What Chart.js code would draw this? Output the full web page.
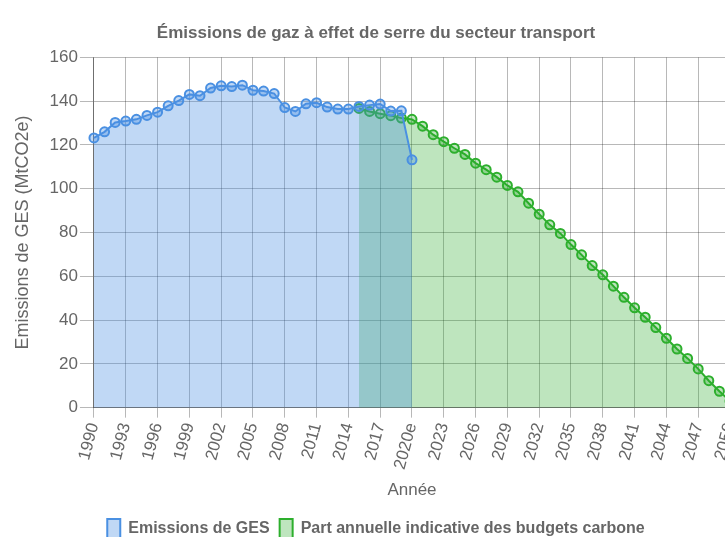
<!DOCTYPE html>
<html>
<head>
<meta charset="utf-8">
<script src="https://cdn.jsdelivr.net/npm/chart.js@4.4.1/dist/chart.umd.min.js"></script>
<style>
  html, body { margin: 0; padding: 0; overflow: hidden; background: #fff; }
  #wrap { width: 740px; height: 549px; }
</style>
</head>
<body>
<div id="wrap"><canvas id="myChart"></canvas></div>
<script>
const years = ['1990','1991','1992','1993','1994','1995','1996','1997','1998','1999',
  '2000','2001','2002','2003','2004','2005','2006','2007','2008','2009',
  '2010','2011','2012','2013','2014','2015','2016','2017','2018','2019',
  '2020e','2021','2022','2023','2024','2025','2026','2027','2028','2029',
  '2030','2031','2032','2033','2034','2035','2036','2037','2038','2039',
  '2040','2041','2042','2043','2044','2045','2046','2047','2048','2049','2050'];

// emissions 1990 -> 2020e
const emissions = [123.2, 126.0, 130.3, 130.9, 131.7, 133.5, 135.0, 137.9, 140.3, 143.1,
  142.5, 146.0, 147.0, 146.7, 147.3, 145.0, 144.6, 143.5, 137.1, 135.3,
  138.8, 139.3, 137.3, 136.4, 136.4, 137.6, 138.2, 138.7, 135.5, 135.6, 113.2];

// budgets carbone 2015 -> 2050
const budgetStart = 25;
const budget = [136.7, 135.3, 134.3, 133.4, 132.3, 131.7,
  128.6, 124.7, 121.5, 118.5, 115.7, 111.7, 108.7, 105.3, 101.5, 98.6,
  93.4, 88.4, 83.5, 79.6, 74.5, 69.8, 64.9, 60.7, 55.5, 50.4,
  45.6, 41.3, 36.6, 31.7, 26.8, 22.5, 17.7, 12.3, 7.5, 3.0];

const yTicks = [0, 20, 40, 60, 80, 100, 120, 140, 160];

const font = "'Liberation Sans', Arial, sans-serif";
Chart.defaults.font.family = font;
Chart.defaults.color = '#666';

const blue = 'rgb(74,144,226)';
const blueFill = 'rgba(74,144,226,0.35)';
const green = 'rgb(45,175,45)';
const greenFill = 'rgba(40,170,40,0.3)';

const ctx = document.getElementById('myChart');

const chart = new Chart(ctx, {
  type: 'line',
  data: {
    labels: years,
    datasets: [{
      label: 'Emissions de GES',
      data: emissions,
      borderColor: blue,
      backgroundColor: blueFill,
      pointBackgroundColor: blueFill,
      pointBorderColor: blue,
      pointRadius: 4.5,
      pointBorderWidth: 2,
      borderWidth: 2,
      fill: 'origin',
      tension: 0
    }, {
      label: 'Part annuelle indicative des budgets carbone',
      data: Array(budgetStart).fill(null).concat(budget),
      borderColor: green,
      backgroundColor: greenFill,
      pointBackgroundColor: greenFill,
      pointBorderColor: green,
      pointRadius: 4.5,
      pointBorderWidth: 2,
      borderWidth: 2,
      fill: 'origin',
      tension: 0
    }]
  },
  options: {
    responsive: true,
    maintainAspectRatio: false,
    animation: false,
    layout: { padding: { left: 12, right: 0, top: 23 } },
    plugins: {
      title: {
        display: true,
        text: 'Émissions de gaz à effet de serre du secteur transport',
        font: { size: 17, weight: 'bold' },
        padding: { top: 0, bottom: 14 }
      },
      legend: {
        position: 'bottom',
        labels: {
          boxWidth: 13,
          boxHeight: 20,
          font: { size: 16, weight: 'bold' },
          padding: 10
        }
      },
      tooltip: { enabled: false }
    },
    scales: {
      x: {
        title: { display: true, text: 'Année', font: { size: 17 }, padding: { top: 6, bottom: 8 } },
        grid: { color: 'rgba(0,0,0,0.28)', tickLength: 10 },
        border: { color: 'rgba(0,0,0,0.4)' },
        ticks: {
          autoSkip: false,
          minRotation: 75,
          maxRotation: 75,
          font: { size: 17 },
          callback: function (v, i) { return i % 3 === 0 ? years[i] : null; }
        },
        afterFit: function (scale) { scale.paddingRight = 10; }
      },
      y: {
        min: 0,
        max: 160,
        title: { display: true, text: 'Emissions de GES (MtCO2e)', font: { size: 18 }, padding: { top: 0, bottom: 14 } },
        grid: { color: 'rgba(0,0,0,0.28)', tickLength: 14 },
        border: { color: 'rgba(0,0,0,0.4)' },
        afterBuildTicks: function (axis) { axis.ticks = yTicks.map(v => ({ value: v })); },
        ticks: { font: { size: 17 }, padding: 2 }
      }
    }
  }
});
</script>
</body>
</html>
